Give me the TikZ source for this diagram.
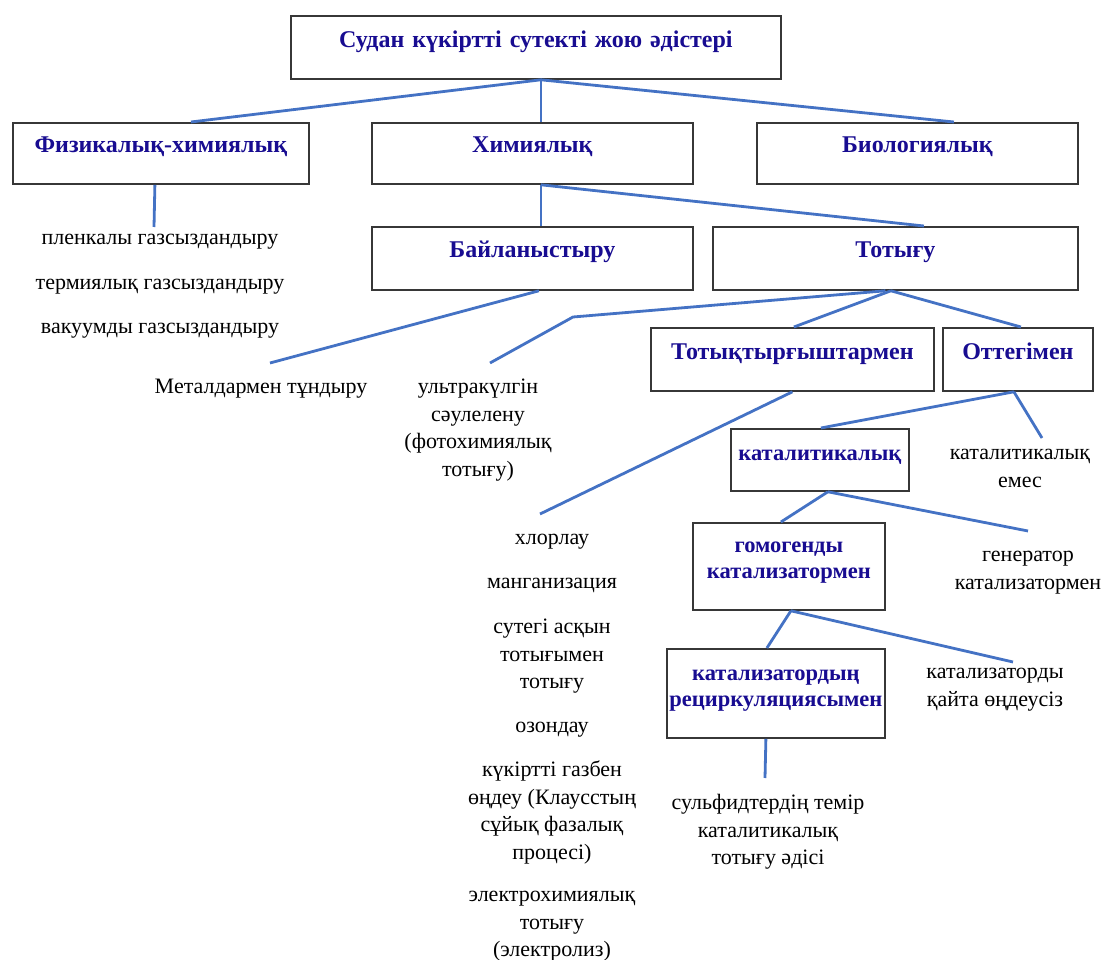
\documentclass[tikz,border=0pt]{standalone}
\usepackage{fontspec}
\setmainfont{Liberation Serif}
\definecolor{titleblue}{RGB}{24,12,145}
\definecolor{linkblue}{RGB}{68,114,196}
\definecolor{boxgray}{RGB}{55,55,55}
\newcommand\lines[1]{\begin{tabular}[t]{@{}c@{}}#1\end{tabular}}
\begin{document}
\begin{tikzpicture}[x=1pt,y=-1pt,
  box/.style={draw=boxgray, line width=1.8pt, fill=white, inner sep=0pt,
    anchor=north west, align=center, text=titleblue,
    font=\bfseries\fontsize{24}{26}\selectfont},
  small/.style={font=\bfseries\fontsize{22.5}{26}\selectfont},
  boxsize/.style n args={3}{text width=#1pt, text height=#2pt, text depth=#3pt},
  leaf/.style={anchor=base, inner sep=0pt, text=black,
    font=\fontsize{22}{27.5}\selectfont},
  link/.style={draw=linkblue, line width=2.8pt},
]
\useasboundingbox (0,0) rectangle (1106,960);

% boxes
\node[box, boxsize={490}{32}{31}] (top) at (290,15) {Судан күкіртті сутекті жою әдістері};
\node[box, boxsize={296}{30}{31}] (phys) at (12,122) {Физикалық-химиялық};
\node[box, boxsize={321}{30}{31}] (chem) at (371,122) {Химиялық};
\node[box, boxsize={321}{30}{31}] (bio) at (756,122) {Биологиялық};
\node[box, boxsize={321}{31}{32}] (bind) at (371,226) {Байланыстыру};
\node[box, boxsize={365}{31}{32}] (oxid) at (712,226) {Тотығу};
\node[box, boxsize={283}{32}{31}] (oxagent) at (650,327) {Тотықтырғыштармен};
\node[box, boxsize={150}{32}{31}] (oxygen) at (942,327) {Оттегімен};
\node[box, small, boxsize={178}{31.5}{30.5}] (catal) at (730,428) {каталитикалық};
\node[box, small, boxsize={192}{29.5}{57.5}] (homog) at (692,522) {гомогенды\\катализатормен};
\node[box, small, boxsize={218}{31.5}{57.5}] (recirc) at (666,648) {катализатордың\\рециркуляциясымен};

% leaves
\node[leaf] (film) at (160,244.5) {пленкалы газсыздандыру};
\node[leaf] (therm) at (160,289.5) {термиялық газсыздандыру};
\node[leaf] (vac) at (160,333.5) {вакуумды газсыздандыру};
\node[leaf] (metal) at (261,393.5) {Металдармен тұндыру};
\node[leaf] (uv) at (478,393.5) {\lines{ультракүлгін\\сәулелену\\(фотохимиялық\\тотығу)}};
\node[leaf] (noncat) at (1020,459.5) {\lines{каталитикалық\\емес}};
\node[leaf] (gen) at (1028,561.5) {\lines{генератор\\катализатормен}};
\node[leaf] (norec) at (995,678.5) {\lines{катализаторды\\қайта өңдеусіз}};
\node[leaf] (chlor) at (552,544.5) {хлорлау};
\node[leaf] (mang) at (552,588.5) {манганизация};
\node[leaf] (perox) at (552,633.5) {\lines{сутегі асқын\\тотығымен\\тотығу}};
\node[leaf] (ozone) at (552,732.5) {озондау};
\node[leaf] (claus) at (552,776.5) {\lines{күкіртті газбен\\өңдеу (Клаусстың\\сұйық фазалық\\процесі)}};
\node[leaf] (electro) at (552,901.5) {\lines{электрохимиялық\\тотығу\\(электролиз)}};
\node[leaf] (iron) at (768,809.5) {\lines{сульфидтердің темір\\каталитикалық\\тотығу әдісі}};

% free ends of connectors
\coordinate (physEnd) at (154,227);
\coordinate (metalEnd) at (270,363);
\coordinate (uvBend) at (573,317);
\coordinate (uvEnd) at (490,363);
\coordinate (agentEnd) at (540,514);
\coordinate (noncatEnd) at (1042,438);
\coordinate (genEnd) at (1028,531);
\coordinate (norecEnd) at (1013,662);
\coordinate (ironEnd) at (765,778);

% connectors
\draw[link] ([xshift=5pt]top.south) -- ([xshift=30pt]phys.north);
\draw[link] ([xshift=5pt]top.south) -- ([xshift=8.5pt]chem.north);
\draw[link] ([xshift=5pt]top.south) -- ([xshift=36.5pt]bio.north);
\draw[link] ([xshift=-6pt]phys.south) -- (physEnd);
\draw[link] ([xshift=8.5pt]chem.south) -- ([xshift=8.5pt]bind.north);
\draw[link] ([xshift=8.5pt]chem.south) -- ([xshift=28.5pt]oxid.north);
\draw[link] ([xshift=6.5pt]bind.south) -- (metalEnd);
\draw[link] ([xshift=-10pt]oxid.south) -- (uvBend) -- (uvEnd);
\draw[link] ([xshift=-4.5pt]oxid.south) -- ([xshift=1.5pt]oxagent.north);
\draw[link] ([xshift=-4.5pt]oxid.south) -- ([xshift=3pt]oxygen.north);
\draw[link] (oxagent.south) -- (agentEnd);
\draw[link] ([xshift=-4pt]oxygen.south) -- ([xshift=1pt]catal.north);
\draw[link] ([xshift=-4pt]oxygen.south) -- (noncatEnd);
\draw[link] ([xshift=8pt]catal.south) -- ([xshift=-8pt]homog.north);
\draw[link] ([xshift=8pt]catal.south) -- (genEnd);
\draw[link] ([xshift=2pt]homog.south) -- ([xshift=-9pt]recirc.north);
\draw[link] ([xshift=2pt]homog.south) -- (norecEnd);
\draw[link] ([xshift=-10pt]recirc.south) -- (ironEnd);
\end{tikzpicture}
\end{document}
